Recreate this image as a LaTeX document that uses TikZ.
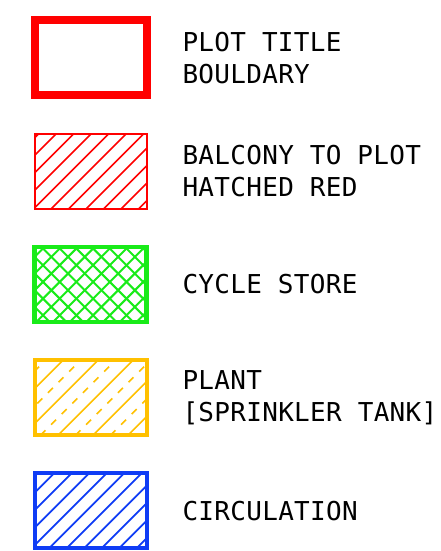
\documentclass[tikz,border=0pt]{standalone}
\usepackage{fontspec}
\usepackage{xcolor}
\usepackage{tikz}
\usetikzlibrary{positioning}
\newfontfamily\legendfont[LetterSpace=1.2]{DejaVu Sans Mono}
\definecolor{keyred}{RGB}{255,0,0}
\definecolor{keygreen}{RGB}{25,235,25}
\definecolor{keyamber}{RGB}{255,192,0}
\definecolor{keyblue}{RGB}{15,60,245}
\tikzset{
  swatch/.style={rectangle, minimum width=112pt, minimum height=75pt, inner sep=0pt, outer sep=0pt},
  lbl/.style={font=\legendfont\fontsize{26}{32}\selectfont, align=left, inner sep=0pt, outer sep=0pt},
  hatch/.style={line width=1.6pt},
}

\begin{document}
\begin{tikzpicture}[x=1pt, y=1pt, node distance=38.25pt]
    \useasboundingbox (0,0) rectangle (440,551);
    \node[swatch, draw=keyred, line width=8pt] (s1) at (90.5,493) {};
    \node[swatch, draw=keyred, line width=2pt, below=of s1] (s2) {};
    \node[swatch, draw=keygreen, line width=4.5pt, below=of s2] (s3) {};
    \node[swatch, draw=keyamber, line width=4pt, below=of s3] (s4) {};
    \node[swatch, draw=keyblue, line width=4pt, below=of s4] (s5) {};
    \node[lbl, right=36pt of s1] (l1) {PLOT TITLE\\BOULDARY};
    \node[lbl, right=36pt of s2] (l2) {BALCONY TO PLOT\\HATCHED RED};
    \node[lbl, right=36pt of s3] (l3) {CYCLE STORE};
    \node[lbl, right=36pt of s4] (l4) {PLANT\\{[}SPRINKLER TANK{]}};
    \node[lbl, right=36pt of s5] (l5) {CIRCULATION};
    \begin{scope}
      \clip (s2.south west) rectangle (s2.north east);
      \foreach \d in {-88.2,-70.7,...,125}
        \draw[hatch, keyred, line width=1.5pt] ([xshift=\d pt]s2.south west) -- ++(90,90);
    \end{scope}
    \begin{scope}
      \clip (s3.south west) rectangle (s3.north east);
      \foreach \d in {-81.7,-65,...,130}
        \draw[hatch, keygreen, line width=2pt] ([xshift=\d pt]s3.south west) -- ++(90,90);
      \foreach \d in {-1.5,15.2,...,200}
        \draw[hatch, keygreen, line width=2pt] ([xshift=\d pt]s3.south west) -- ++(-90,90);
    \end{scope}
    \begin{scope}
      \clip (s4.south west) rectangle (s4.north east);
      \foreach \d in {-81.5,-46.5,...,115}
        \draw[hatch, keyamber] ([xshift=\d pt]s4.south west) -- ++(90,90);
      \foreach \d in {-64,-29,...,115}
        \draw[hatch, keyamber, dash pattern=on 7pt off 8pt] ([xshift=\d pt]s4.south west) -- ++(90,90);
    \end{scope}
    \begin{scope}
      \clip (s5.south west) rectangle (s5.north east);
      \foreach \d in {-73.2,-55.7,...,115}
        \draw[hatch, keyblue, line width=1.8pt] ([xshift=\d pt]s5.south west) -- ++(90,90);
    \end{scope}
\end{tikzpicture}
\end{document}
